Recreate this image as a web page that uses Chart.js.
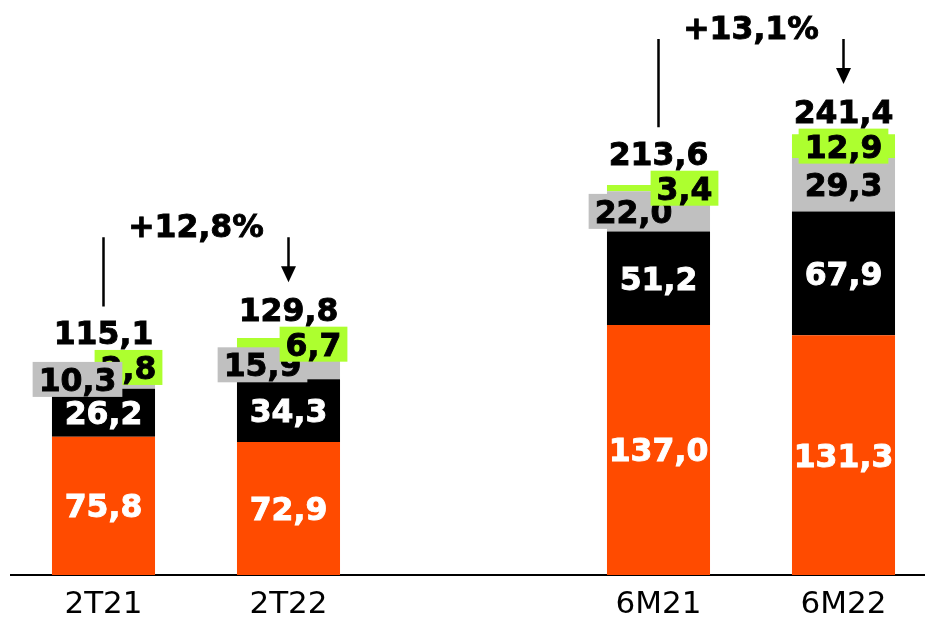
<!DOCTYPE html>
<html>
<head>
<meta charset="utf-8">
<script src="https://cdn.jsdelivr.net/npm/chart.js@4.4.0/dist/chart.umd.min.js"></script>
<style>
  html, body { margin: 0; padding: 0; background: #fff; overflow: hidden; }
  #wrap { position: relative; width: 936px; height: 634px; }
</style>
</head>
<body>
<div id="wrap"><canvas id="chart"></canvas></div>
<script>
// DATA
const categories = ["2T21", "2T22", "", "6M21", "6M22"];
const orangeValues = [75.8, 72.9, null, 137.0, 131.3];
const blackValues = [26.2, 34.3, null, 51.2, 67.9];
const grayValues = [10.3, 15.9, null, 22.0, 29.3];
const greenValues = [2.8, 6.7, null, 3.4, 12.9];
const totals = [115.1, 129.8, null, 213.6, 241.4];
const growthLabels = ["+12,8%", "+13,1%"];
const growthPairs = [[0, 1], [3, 4]];

// label layout (small segments get their label pushed aside)
const grayShift = [-26, -26, 0, -25, 0];
const greenShift = [25, 25, 0, 26, 0];
const grayOnTop = [true, false, false, false, false];

const BOLD = "bold 31.5px 'DejaVu Sans', Verdana, sans-serif";
const ORANGE = "#FF4B00";
const GRAY = "#C0C0C0";
const GREEN = "#ADFF2F";

function fmt(v) {
  return v.toFixed(1).replace(".", ",");
}

// text centred on (x, y) using cap height
function centerText(ctx, text, x, y, color) {
  ctx.fillStyle = color;
  ctx.strokeStyle = color;
  ctx.lineWidth = 0.9;
  ctx.textAlign = "center";
  ctx.textBaseline = "alphabetic";
  ctx.fillText(text, x, y + 11.5);
  ctx.strokeText(text, x, y + 11.5);
}

function boxText(ctx, text, x, y, bg) {
  const w = ctx.measureText(text).width + 12;
  ctx.fillStyle = bg;
  ctx.fillRect(x - w / 2, y - 17.5, w, 35);
  centerText(ctx, text, x, y, "#000");
}

const labelsPlugin = {
  id: "barLabels",
  afterDatasetsDraw(chart) {
    const ctx = chart.ctx;
    const metas = [0, 1, 2, 3].map((i) => chart.getDatasetMeta(i));
    const mid = (el) => (el.y + el.base) / 2;
    const totalY = [];

    ctx.save();
    ctx.font = BOLD;

    categories.forEach((cat, j) => {
      if (totals[j] == null) return;
      const o = metas[0].data[j], b = metas[1].data[j], g = metas[2].data[j], gr = metas[3].data[j];
      centerText(ctx, fmt(orangeValues[j]), o.x, mid(o), "#fff");
      centerText(ctx, fmt(blackValues[j]), b.x, mid(b), "#fff");

      const drawGray = () => boxText(ctx, fmt(grayValues[j]), g.x + grayShift[j], mid(g), GRAY);
      const drawGreen = () => boxText(ctx, fmt(greenValues[j]), gr.x + greenShift[j], mid(gr), GREEN);
      if (grayOnTop[j]) { drawGreen(); drawGray(); } else { drawGray(); drawGreen(); }

      totalY[j] = mid(gr) - 35;
      centerText(ctx, fmt(totals[j]), gr.x, totalY[j], "#000");
    });

    // GROWTH ANNOTATIONS
    growthPairs.forEach(([a, b], k) => {
      const x1 = metas[3].data[a].x;
      const x2 = metas[3].data[b].x;
      const arrowBottom = totalY[b] - 27;
      const textY = arrowBottom - 57;
      const lineTop = textY + 12;

      ctx.strokeStyle = "#000";
      ctx.lineWidth = 2.5;
      ctx.beginPath();
      ctx.moveTo(x1, lineTop);
      ctx.lineTo(x1, totalY[a] - 26);
      ctx.moveTo(x2, lineTop);
      ctx.lineTo(x2, arrowBottom - 14);
      ctx.stroke();

      ctx.fillStyle = "#000";
      ctx.beginPath();
      ctx.moveTo(x2 - 7.5, arrowBottom - 16);
      ctx.lineTo(x2 + 7.5, arrowBottom - 16);
      ctx.lineTo(x2, arrowBottom);
      ctx.closePath();
      ctx.fill();

      centerText(ctx, growthLabels[k], (x1 + x2) / 2, textY, "#000");
    });
    ctx.restore();
  }
};

function makeSet(values, color) {
  return {
    data: values,
    backgroundColor: color,
    borderWidth: 0,
    barPercentage: 0.557,
    categoryPercentage: 1
  };
}

new Chart(document.getElementById("chart"), {
  type: "bar",
  data: {
    labels: categories,
    datasets: [
      makeSet(orangeValues, ORANGE),
      makeSet(blackValues, "#000000"),
      makeSet(grayValues, GRAY),
      makeSet(greenValues, GREEN)
    ]
  },
  options: {
    responsive: true,
    maintainAspectRatio: false,
    animation: false,
    layout: { padding: { left: 11, right: 0, top: 0, bottom: 0 } },
    plugins: {
      legend: { display: false },
      tooltip: { enabled: false }
    },
    scales: {
      x: {
        stacked: true,
        grid: { display: false, drawTicks: false },
        border: { display: true, color: "#000", width: 2 },
        ticks: {
          color: "#000",
          padding: 14,
          font: { family: "'DejaVu Sans', Verdana, sans-serif", size: 31, lineHeight: 1 }
        }
      },
      y: {
        stacked: true,
        display: false,
        min: 0,
        max: 315
      }
    }
  },
  plugins: [labelsPlugin]
});
</script>
</body>
</html>
